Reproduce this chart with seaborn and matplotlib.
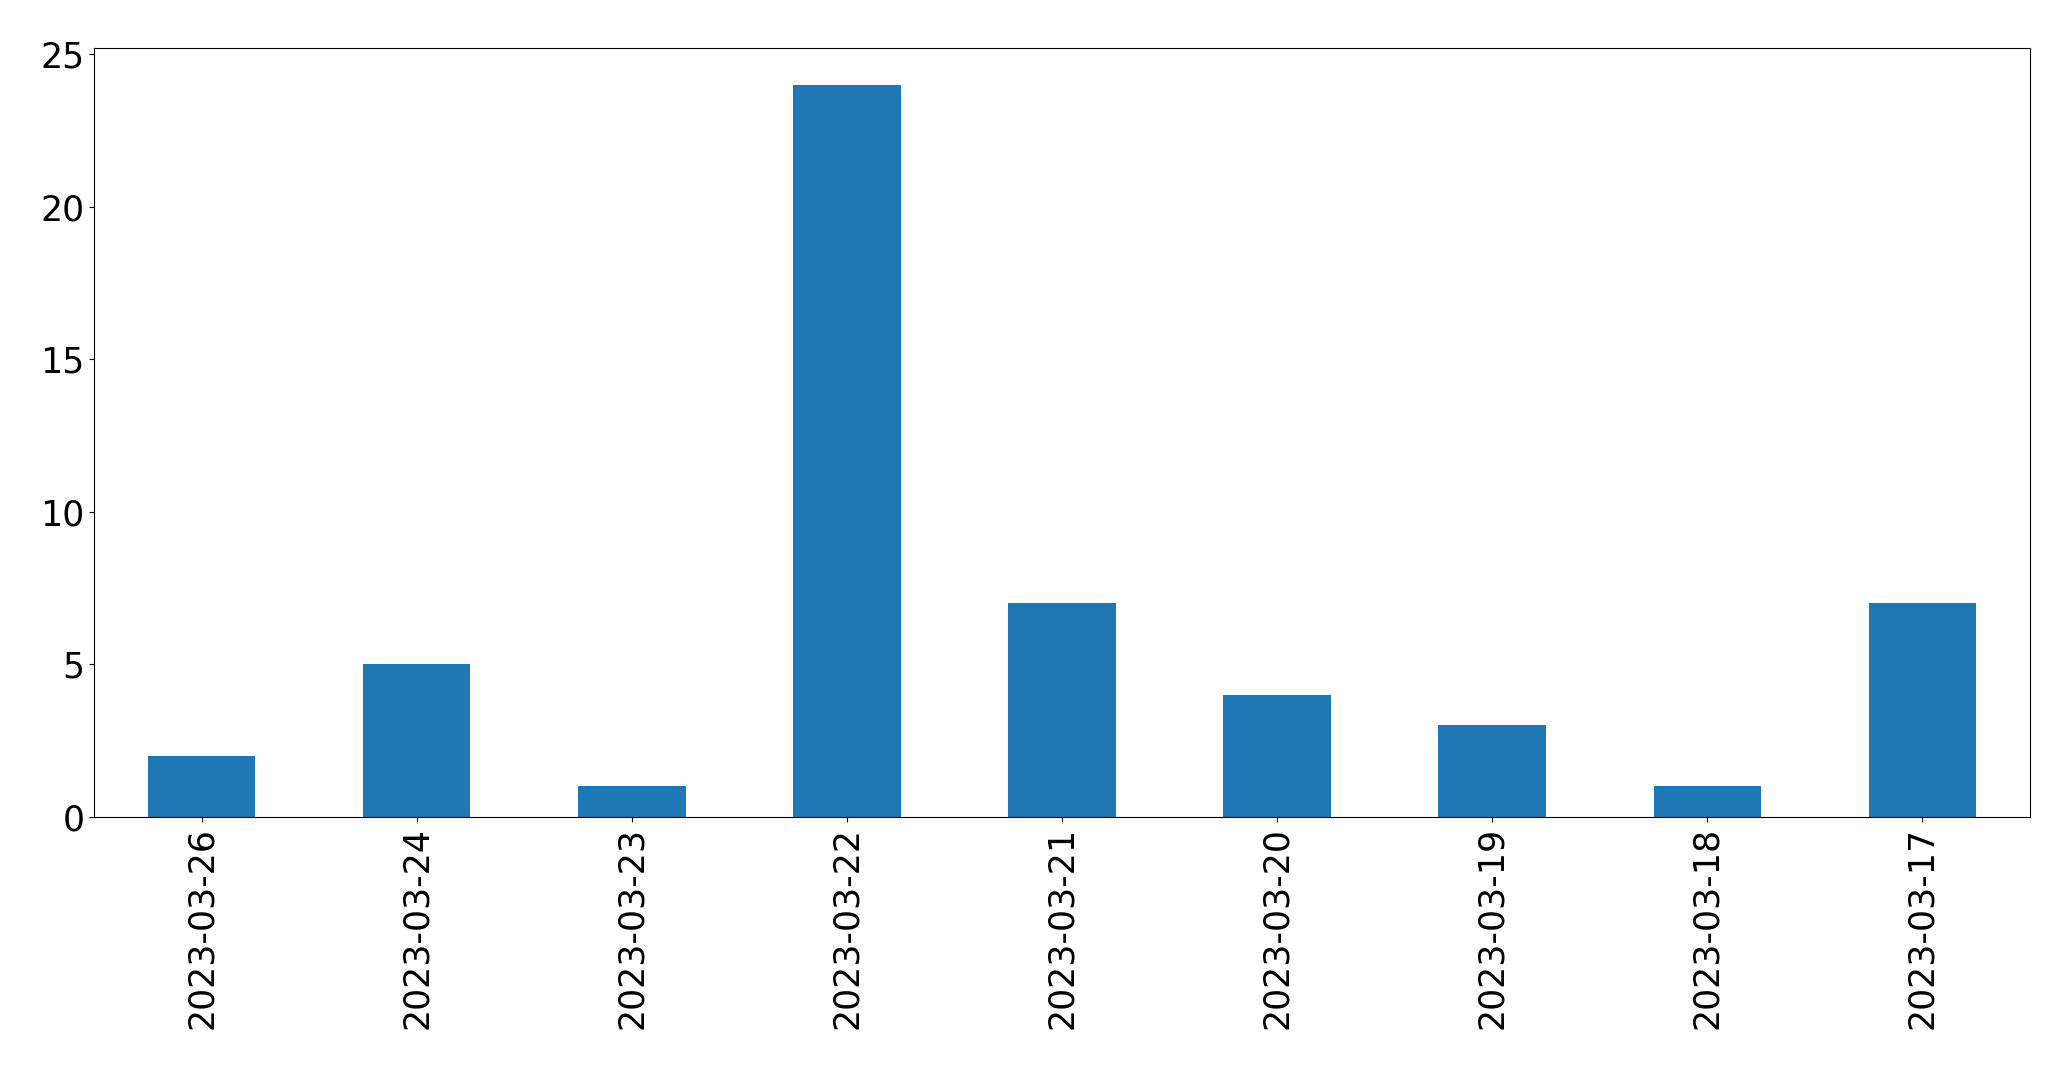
import pandas as pd
import numpy as np
import seaborn as sns
import matplotlib
matplotlib.use('Agg')
import matplotlib.pyplot as plt

# 每日数量
dates = ['2023-03-26', '2023-03-24', '2023-03-23', '2023-03-22', '2023-03-21',
         '2023-03-20', '2023-03-19', '2023-03-18', '2023-03-17']
counts = [2, 5, 1, 24, 7, 4, 3, 1, 7]

df = pd.DataFrame({'date': dates, 'count': counts})

fig, ax = plt.subplots(figsize=(20.71, 10.69), dpi=100)
sns.barplot(data=df, x='date', y='count', color='#1f77b4', saturation=1,
            width=0.5, order=dates, ax=ax)

ax.set_xlim(-0.5, len(dates) - 0.5)
ax.set_ylim(0, max(counts) * 1.05)
ax.set_xlabel('')
ax.set_ylabel('')
ax.tick_params(axis='both', labelsize=25)
plt.xticks(rotation=90)

plt.subplots_adjust(left=0.0454, right=0.9802, top=0.955, bottom=0.2358)
plt.savefig('out.png', dpi=100)
